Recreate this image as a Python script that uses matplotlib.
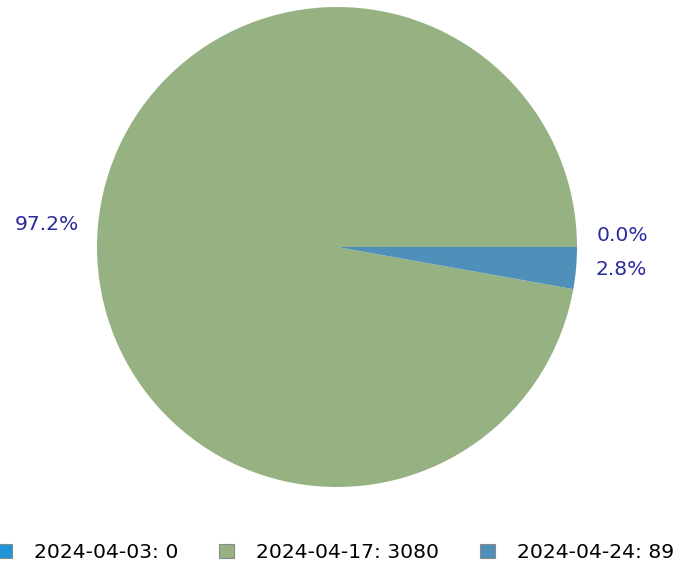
import matplotlib
matplotlib.use("Agg")
import matplotlib.pyplot as plt
from matplotlib.patches import Patch

categories = ["2024-04-03", "2024-04-17", "2024-04-24"]
values = [0, 3080, 89]
colors = ["#1f95d8", "#97b282", "#4e90ba"]
label_color = "#2b2b9e"

W, H = 680, 568
fig = plt.figure(figsize=(W / 100, H / 100), dpi=100)
plt.rcParams['font.family'] = ['DejaVu Sans']
FS = 14.6

cx, cy, r = 337, 247, 240
ax = fig.add_axes([(cx - r) / W, 1 - (cy + r) / H, 2 * r / W, 2 * r / H])

total = sum(values)
pct_labels = [f"{100 * v / total:.1f}%" for v in values]

wedges, texts = ax.pie(values, colors=colors, startangle=0, counterclock=True,
                       labels=pct_labels, labeldistance=1.08,
                       wedgeprops=dict(linewidth=0),
                       textprops=dict(color=label_color, fontsize=FS))
# nudge the 0.0% label up to avoid overlap (as in the reference)
x0, y0 = texts[0].get_position()
texts[0].set_position((x0, y0 + 0.046))
texts[0].set_va('center')
ax.set_xlim(-1, 1)
ax.set_ylim(-1, 1)
ax.set_aspect('auto')
ax.axis('off')

handles = [Patch(facecolor=c, edgecolor='#8a8a8a', linewidth=0.8) for c in colors]
leg_labels = [f"{c}: {v}" for c, v in zip(categories, values)]
fig.legend(handles, leg_labels, ncol=3, loc='center',
           bbox_to_anchor=(335.5 / W, 1 - 553 / H), frameon=False,
           fontsize=FS, handlelength=0.74, handleheight=0.69,
           handletextpad=1.08, columnspacing=2.0, borderpad=0, borderaxespad=0)

fig.savefig("out.png", dpi=100)
